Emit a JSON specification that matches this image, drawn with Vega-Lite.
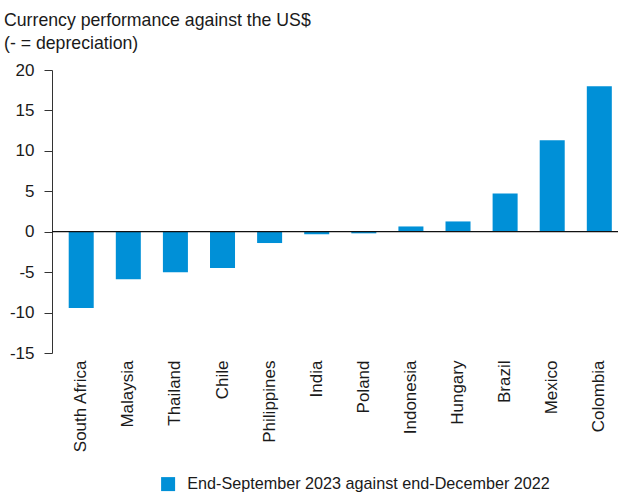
{
  "$schema": "https://vega.github.io/schema/vega-lite/v6.json",
  "autosize": "none",
  "width": 566,
  "height": 283,
  "padding": {"left": 52, "top": 70, "right": 0, "bottom": 146},
  "background": "white",
  "config": {
    "view": {"stroke": null},
    "font": "Liberation Sans",
    "text": {"font": "Liberation Sans"}
  },
  "title": {
    "text": ["Currency performance against the US$", "(- = depreciation)"],
    "anchor": "start",
    "frame": "group",
    "dx": -48,
    "fontSize": 17.7,
    "fontWeight": "normal",
    "color": "#1a1a1a",
    "lineHeight": 23,
    "offset": 8
  },
  "data": {
    "values": [
      {"country": "South Africa", "value": -9.45, "series": "End-September 2023 against end-December 2022"},
      {"country": "Malaysia", "value": -5.87, "series": "End-September 2023 against end-December 2022"},
      {"country": "Thailand", "value": -5.0, "series": "End-September 2023 against end-December 2022"},
      {"country": "Chile", "value": -4.5, "series": "End-September 2023 against end-December 2022"},
      {"country": "Philippines", "value": -1.4, "series": "End-September 2023 against end-December 2022"},
      {"country": "India", "value": -0.3, "series": "End-September 2023 against end-December 2022"},
      {"country": "Poland", "value": -0.2, "series": "End-September 2023 against end-December 2022"},
      {"country": "Indonesia", "value": 0.65, "series": "End-September 2023 against end-December 2022"},
      {"country": "Hungary", "value": 1.27, "series": "End-September 2023 against end-December 2022"},
      {"country": "Brazil", "value": 4.73, "series": "End-September 2023 against end-December 2022"},
      {"country": "Mexico", "value": 11.3, "series": "End-September 2023 against end-December 2022"},
      {"country": "Colombia", "value": 17.98, "series": "End-September 2023 against end-December 2022"}
    ]
  },
  "layer": [
    {
      "mark": {"type": "bar"},
      "encoding": {
        "x": {
          "field": "country",
          "type": "nominal",
          "sort": null,
          "scale": {"paddingInner": 0.469, "paddingOuter": 0.243, "align": 0.73},
          "axis": {
            "title": null,
            "domain": false,
            "ticks": false,
            "labelAngle": -90,
            "labelPadding": 7,
            "labelFontSize": 17,
            "labelColor": "#1a1a1a",
            "grid": false
          }
        },
        "y": {
          "field": "value",
          "type": "quantitative",
          "scale": {"domain": [-15, 20], "nice": false, "zero": false},
          "axis": {
            "title": null,
            "values": [-15, -10, -5, 0, 5, 10, 15, 20],
            "labelExpr": "replace(datum.label, '\u2212', '-')",
            "grid": false,
            "domainColor": "#333333",
            "tickColor": "#333333",
            "tickSize": 8,
            "labelPadding": 10,
            "labelFontSize": 17,
            "labelColor": "#1a1a1a"
          }
        },
        "color": {
          "field": "series",
          "type": "nominal",
          "scale": {"range": ["#0090d7"]},
          "legend": {
            "title": null,
            "orient": "none",
            "legendX": 108,
            "legendY": 406,
            "symbolType": "square",
            "symbolSize": 196,
            "symbolStrokeWidth": 0,
            "labelFontSize": 16.2,
            "labelColor": "#1a1a1a",
            "labelOffset": 11,
            "labelLimit": 500
          }
        }
      }
    },
    {
      "data": {"values": [{"y0": 0}]},
      "mark": {"type": "rule", "color": "#111111", "strokeWidth": 1.2},
      "encoding": {"y": {"field": "y0", "type": "quantitative"}}
    }
  ]
}
